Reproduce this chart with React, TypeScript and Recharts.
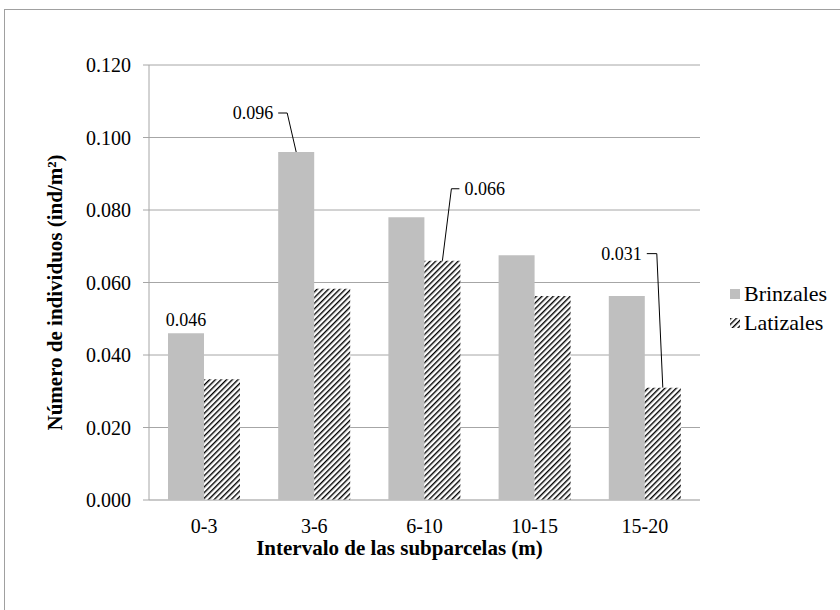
import React from 'react';
import { BarChart, Bar, XAxis, YAxis, CartesianGrid, Legend, LabelList, Label } from 'recharts';

const categories = ['0-3', '3-6', '6-10', '10-15', '15-20'];
const brinzales = [0.046, 0.096, 0.078, 0.0675, 0.0563];
const latizales = [0.0333, 0.0583, 0.066, 0.0563, 0.031];
const yTicks = [0, 0.02, 0.04, 0.06, 0.08, 0.1, 0.12];

const data = categories.map((c, i) => ({ cat: c, brinzales: brinzales[i], latizales: latizales[i] }));

const FONT = '"Liberation Serif"';
const GRID = '#a6a6a6';
const GRAY = '#bfbfbf';

// which bars carry a value label, and where the callout goes (offset from bar top)
type Callout = { kind: 'plain' } | { kind: 'leader'; dx: number; dy: number; dir: 1 | -1; arm: number };
const brinzalesCallouts: Record<number, Callout> = {
  0: { kind: 'plain' },
  1: { kind: 'leader', dx: -9, dy: -39, dir: -1, arm: 9 },
};
const latizalesCallouts: Record<number, Callout> = {
  2: { kind: 'leader', dx: 9, dy: -72, dir: 1, arm: 8 },
  4: { kind: 'leader', dx: -6, dy: -134, dir: -1, arm: 10 },
};

function makeLabel(callouts: Record<number, Callout>) {
  return (props: any) => {
    const vb = props.viewBox || {};
    const x = props.x ?? vb.x;
    const y = props.y ?? vb.y;
    const width = props.width ?? vb.width;
    const c = callouts[props.index];
    if (!c) return null;
    const cx = x + width / 2;
    const top = y;
    const text = Number(props.value).toFixed(3);
    const style = { fontFamily: FONT, fontSize: 18, fill: '#000' };
    if (c.kind === 'plain') {
      return (
        <text x={cx} y={top - 13} textAnchor="middle" dominantBaseline="central" style={style}>
          {text}
        </text>
      );
    }
    const ex = cx + c.dx;
    const ey = top + c.dy;
    const hx = ex + c.dir * c.arm;
    return (
      <g>
        <polyline points={`${cx},${top} ${ex},${ey} ${hx},${ey}`} fill="none" stroke="#000" strokeWidth={1} />
        <text x={hx + c.dir * 5} y={ey} textAnchor={c.dir < 0 ? 'end' : 'start'} dominantBaseline="central" style={style}>
          {text}
        </text>
      </g>
    );
  };
}

const legendItems = [
  { name: 'Brinzales', fill: GRAY },
  { name: 'Latizales', fill: 'url(#hatch)' },
];

function LegendContent() {
  return (
    <div style={{ fontFamily: FONT, fontSize: 22, color: '#000' }}>
      {legendItems.map((it) => (
        <div key={it.name} style={{ display: 'flex', alignItems: 'center', height: 29 }}>
          <svg width={10} height={10} style={{ marginRight: 4 }}>
            <rect width={10} height={10} fill={it.fill} />
          </svg>
          <span>{it.name}</span>
        </div>
      ))}
    </div>
  );
}

const tickStyle = { fill: '#000', fontSize: 20, fontFamily: FONT };

export default function App() {
  return (
    <div style={{ position: 'absolute', left: 0, top: 0, width: 840, height: 610, overflow: 'hidden', background: '#fff', fontFamily: FONT }}>
      <svg width={0} height={0} style={{ position: 'absolute' }}>
        <defs>
          <pattern id="hatch" width={4} height={4} patternUnits="userSpaceOnUse" patternTransform="rotate(45)">
            <rect width={4} height={4} fill="#fff" />
            <rect width={1.4} height={4} fill="#000" />
          </pattern>
        </defs>
      </svg>
      <div style={{ position: 'absolute', left: 4, top: 9, width: 900, height: 700, border: '1px solid #a0a0a0' }} />
      <div style={{ position: 'absolute', left: 0, top: 0 }}>
        <BarChart width={840} height={610} data={data} margin={{ top: 65, right: 140, left: 0, bottom: 0 }} barGap={0} barSize={36}>
          <CartesianGrid vertical={false} stroke={GRID} />
          <XAxis
            dataKey="cat"
            height={110}
            tickLine={false}
            axisLine={{ stroke: GRAY }}
            tickMargin={13}
            tick={tickStyle}
          >
            <Label
              content={(p: any) => {
                const vb = p.viewBox;
                return (
                  <text x={vb.x + vb.width / 2 - 25} y={vb.y + 48} textAnchor="middle" dominantBaseline="central"
                    style={{ fontFamily: FONT, fontSize: 21, fontWeight: 'bold', fill: '#000' }}>
                    Intervalo de las subparcelas (m)
                  </text>
                );
              }}
            />
          </XAxis>
          <YAxis
            width={149}
            domain={[0, 0.12]}
            ticks={yTicks}
            interval={0}
            tickFormatter={(v: number) => v.toFixed(3)}
            axisLine={{ stroke: GRID }}
            tickLine={{ stroke: GRID }}
            tickSize={6}
            tickMargin={12}
            tick={tickStyle}
          >
            <Label
              content={(p: any) => {
                const vb = p.viewBox;
                const cx = vb.x + 55;
                const cy = vb.y + vb.height / 2 + 10;
                return (
                  <text x={cx} y={cy} transform={`rotate(-90 ${cx} ${cy})`} textAnchor="middle" dominantBaseline="central"
                    style={{ fontFamily: FONT, fontSize: 21, fontWeight: 'bold', fill: '#000' }}>
                    Número de individuos (ind/m²)
                  </text>
                );
              }}
            />
          </YAxis>
          <Legend
            layout="vertical"
            align="center"
            verticalAlign="middle"
            wrapperStyle={{ left: 730, top: 279, width: 110 }}
            content={<LegendContent />}
          />
          <Bar dataKey="brinzales" name="Brinzales" fill={GRAY} isAnimationActive={false}>
            <LabelList dataKey="brinzales" content={makeLabel(brinzalesCallouts)} />
          </Bar>
          <Bar dataKey="latizales" name="Latizales" fill="url(#hatch)" isAnimationActive={false}>
            <LabelList dataKey="latizales" content={makeLabel(latizalesCallouts)} />
          </Bar>
        </BarChart>
      </div>
    </div>
  );
}
